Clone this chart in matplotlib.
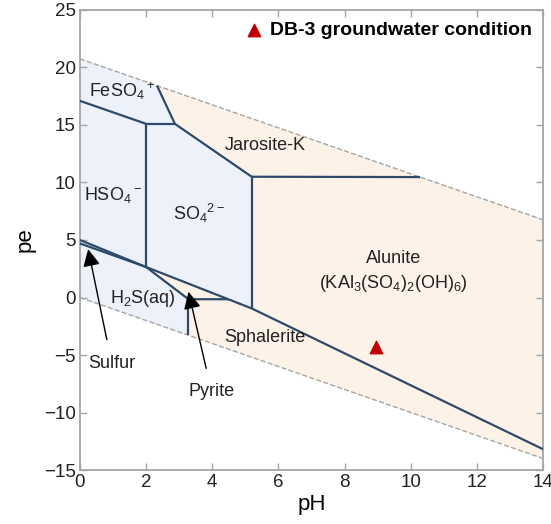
import numpy as np
import matplotlib.pyplot as plt

plt.rcParams['font.family'] = ['Liberation Sans', 'DejaVu Sans']

# water stability limits (pH, pe)
upper_water_ph = [0, 14]
upper_water_pe = [20.75, 6.75]
lower_water_ph = [0, 14]
lower_water_pe = [0, -14]

# boundary lines
boundaries = {
    'main':        ([0, 2.0, 5.19, 14], [5.0, 2.65, -0.95, -13.2]),
    'sulfur_low':  ([0, 2.0], [4.7, 2.65]),
    'pyrite':      ([2.0, 3.28, 4.48], [2.65, -0.15, -0.15]),
    'pyrite_vert': ([3.28, 3.28], [-0.15, -3.28]),
    'hso4_so4':    ([2.0, 2.0], [15.1, 2.65]),
    'so4_alun':    ([5.19, 5.19], [10.5, -0.95]),
    'jar_alun':    ([5.19, 10.28], [10.5, 10.47]),
    'so4_jar':     ([2.87, 5.19], [15.1, 10.5]),
    'feso4_jar':   ([2.33, 2.87], [18.42, 15.1]),
    'feso4_so4':   ([2.0, 2.87], [15.1, 15.1]),
    'feso4_hso4':  ([0, 2.0], [17.1, 15.1]),
}

# outline of the aqueous field
aq_ph = [0, 2.33, 2.87, 5.19, 5.19, 2.0, 3.28, 3.28, 0]
aq_pe = [20.75, 18.42, 15.1, 10.5, -0.95, 2.65, -0.15, -3.28, 0]

labels = [
    (r'FeSO$\mathregular{_4}$$\mathregular{^+}$', 1.27, 17.9),
    (r'HSO$\mathregular{_4}$$\mathregular{^-}$', 1.0, 8.9),
    (r'SO$\mathregular{_4}$$\mathregular{^{2-}}$', 3.6, 7.35),
    ('Jarosite-K', 5.6, 13.2),
    ('Alunite', 9.47, 3.4),
    (r'$\mathregular{(KAl_3(SO_4)_2(OH)_6)}$', 9.47, 1.2),
    (r'$\mathregular{H_2S(aq)}$', 1.9, -0.1),
    ('Sphalerite', 5.6, -3.5),
]

# arrows: text, tip, text position
arrows = [
    ('Sulfur', (0.25, 4.2), (0.96, -5.7)),
    ('Pyrite', (3.28, 0.5), (3.98, -8.2)),
]

db3_ph = [8.95]
db3_pe = [-4.3]

blue_fill = '#edf1f9'
orange_fill = '#fdf2e8'
line_col = '#2e4a6a'
grey = '#a5a5a5'

fig, ax = plt.subplots(figsize=(5.51, 5.24), dpi=100)
fig.subplots_adjust(left=0.145, right=0.986, top=0.981, bottom=0.103)

# stability band orange, aqueous field blue on top
band_ph = upper_water_ph + lower_water_ph[::-1]
band_pe = upper_water_pe + lower_water_pe[::-1]
ax.fill(band_ph, band_pe, color=orange_fill, lw=0, zorder=1)
ax.fill(aq_ph, aq_pe, color=blue_fill, lw=0, zorder=1)

ax.plot(upper_water_ph, upper_water_pe, ls='--', color=grey, lw=1, zorder=2)
ax.plot(lower_water_ph, lower_water_pe, ls='--', color=grey, lw=1, zorder=2)

for name, (xs, ys) in boundaries.items():
    ax.plot(xs, ys, color=line_col, lw=1.6, zorder=3, solid_capstyle='butt')

for txt, x, y in labels:
    ax.text(x, y, txt, ha='center', va='center', fontsize=13, color='#222222', zorder=5)

for txt, tip, pos in arrows:
    ax.annotate(txt, xy=tip, xytext=pos, ha='center', va='center', fontsize=13,
                color='#222222', zorder=6,
                arrowprops=dict(arrowstyle='-|>', color='black', lw=1,
                                mutation_scale=26, shrinkA=9, shrinkB=0))

ax.scatter(db3_ph, db3_pe, marker='^', s=80, color='#c00000', zorder=6,
           label='DB-3 groundwater condition')
leg = ax.legend(loc='upper right', frameon=False, handletextpad=0.1,
                handlelength=1.4, prop={'weight': 'bold', 'size': 14},
                borderaxespad=0.2)

ax.set_xlim(0, 14)
ax.set_ylim(-15, 25)
ax.set_xticks(np.arange(0, 15, 2))
ax.set_yticks(np.arange(-15, 26, 5))
ax.tick_params(direction='in', top=True, right=True, length=5, width=1,
               color=grey, labelsize=13.5, labelcolor='#222222', pad=3)
for s in ax.spines.values():
    s.set_color(grey)
    s.set_linewidth(1.3)
ax.set_xlabel('pH', fontsize=16, labelpad=2)
ax.set_ylabel('pe', fontsize=16, labelpad=6)

fig.savefig('out.png', dpi=100)
